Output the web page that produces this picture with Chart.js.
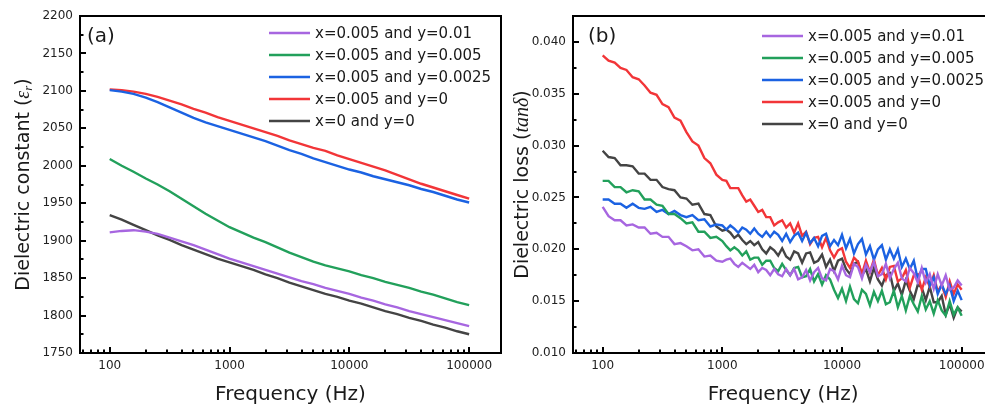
<!DOCTYPE html>
<html>
<head>
<meta charset="utf-8">
<script src="https://cdn.jsdelivr.net/npm/chart.js@4.4.1/dist/chart.umd.min.js"></script>
<style>
  html, body { margin: 0; padding: 0; background: #fff; overflow: hidden; }
  body { width: 985px; height: 412px; position: relative; }
  canvas { position: absolute; top: 0; }
  #chart-a { left: 0; }
  #chart-b { left: 490px; }
</style>
</head>
<body>
<canvas id="chart-a" width="505" height="412"></canvas>
<canvas id="chart-b" width="510" height="412"></canvas>
<script>
const LABELS = ['x=0.005 and y=0.01', 'x=0.005 and y=0.005', 'x=0.005 and y=0.0025', 'x=0.005 and y=0', 'x=0 and y=0'];
const COLORS = ['#a766e0', '#22a05b', '#1b62e2', '#f23538', '#444444'];

const X_TICKS = [100, 1000, 10000, 100000];
const Y_TICKS_A = [1750, 1800, 1850, 1900, 1950, 2000, 2050, 2100, 2150, 2200];
const Y_TICKS_B = [0.010, 0.015, 0.020, 0.025, 0.030, 0.035, 0.040];

// panel (a): dielectric constant, 10 points per decade
const FREQ_A = [100, 126, 158, 200, 251, 316, 398, 501, 631, 794,
  1000, 1259, 1585, 1995, 2512, 3162, 3981, 5012, 6310, 7943,
  10000, 12589, 15849, 19953, 25119, 31623, 39811, 50119, 63096, 79433, 100000];
const EPS_PURPLE = [1911, 1913, 1914, 1912, 1909, 1904, 1899, 1894, 1888, 1882, 1876, 1871, 1866, 1861, 1856, 1851, 1846, 1842, 1837, 1833, 1829, 1824, 1820, 1815, 1811, 1806, 1802, 1798, 1794, 1790, 1786];
const EPS_GREEN = [2009, 2000, 1992, 1983, 1975, 1966, 1956, 1946, 1936, 1927, 1918, 1911, 1904, 1898, 1891, 1884, 1878, 1872, 1867, 1863, 1859, 1854, 1850, 1845, 1841, 1837, 1832, 1828, 1823, 1818, 1814];
const EPS_BLUE = [2101, 2099, 2096, 2091, 2085, 2078, 2071, 2064, 2058, 2053, 2048, 2043, 2038, 2033, 2027, 2021, 2016, 2010, 2005, 2000, 1995, 1991, 1986, 1982, 1978, 1974, 1969, 1965, 1960, 1955, 1951];
const EPS_RED = [2102, 2101, 2099, 2096, 2092, 2087, 2082, 2076, 2071, 2065, 2060, 2055, 2050, 2045, 2040, 2034, 2029, 2024, 2020, 2014, 2009, 2004, 1999, 1994, 1988, 1982, 1976, 1971, 1966, 1961, 1956];
const EPS_BLACK = [1934, 1928, 1921, 1914, 1907, 1901, 1894, 1888, 1882, 1876, 1871, 1866, 1861, 1855, 1850, 1844, 1839, 1834, 1829, 1825, 1820, 1816, 1811, 1806, 1802, 1797, 1793, 1788, 1784, 1779, 1775];

// panel (b): dielectric loss, 20 points per decade below 1 kHz, 30 above
const FREQ_B = [100, 112, 126, 141, 158, 178, 200, 224, 251, 282, 316, 355, 398, 447, 501, 562, 631, 708, 794, 891,
  1000, 1080, 1166, 1259, 1359, 1468, 1585, 1711, 1848, 1995, 2154, 2326, 2512, 2712, 2929, 3162, 3415, 3687, 3981, 4299,
  4642, 5012, 5412, 5843, 6310, 6813, 7356, 7943, 8577, 9261,
  10000, 10798, 11659, 12589, 13594, 14678, 15849, 17113, 18478, 19953, 21544, 23263, 25119, 27123, 29286, 31623, 34146, 36869, 39811, 42987,
  46416, 50119, 54117, 58434, 63096, 68129, 73564, 79433, 85770, 92612, 100000];
const TAN_PURPLE = [0.0241, 0.0232, 0.0228, 0.0228, 0.0223, 0.0224, 0.0221, 0.0221, 0.0215, 0.0216, 0.0212, 0.0212, 0.0205, 0.0206, 0.0203, 0.0199, 0.0200, 0.0193, 0.0194, 0.0189,
  0.0188, 0.0190, 0.0191, 0.0186, 0.0183, 0.0187, 0.0184, 0.0181, 0.0185, 0.0178, 0.0182, 0.0180, 0.0175, 0.0181, 0.0176, 0.0174, 0.0181, 0.0175, 0.0181, 0.0171,
  0.0173, 0.0180, 0.0170, 0.0178, 0.0182, 0.0172, 0.0170, 0.0181, 0.0179, 0.0171,
  0.0184, 0.0175, 0.0173, 0.0186, 0.0183, 0.0172, 0.0185, 0.0178, 0.0188, 0.0174, 0.0176, 0.0186, 0.0172, 0.0181, 0.0187, 0.0172, 0.0169, 0.0182, 0.0177, 0.0168,
  0.0182, 0.0168, 0.0176, 0.0162, 0.0176, 0.0165, 0.0175, 0.0161, 0.0163, 0.0170, 0.0165];
const TAN_GREEN = [0.0266, 0.0266, 0.0260, 0.0260, 0.0255, 0.0257, 0.0256, 0.0248, 0.0248, 0.0243, 0.0242, 0.0234, 0.0234, 0.0230, 0.0225, 0.0226, 0.0217, 0.0217, 0.0211, 0.0212,
  0.0208, 0.0203, 0.0199, 0.0202, 0.0199, 0.0194, 0.0198, 0.0190, 0.0192, 0.0192, 0.0185, 0.0189, 0.0189, 0.0182, 0.0179, 0.0186, 0.0180, 0.0175, 0.0182, 0.0183,
  0.0173, 0.0174, 0.0181, 0.0169, 0.0176, 0.0166, 0.0175, 0.0171, 0.0161, 0.0153,
  0.0162, 0.0150, 0.0164, 0.0152, 0.0148, 0.0161, 0.0157, 0.0146, 0.0159, 0.0150, 0.0160, 0.0147, 0.0149, 0.0160, 0.0144, 0.0155, 0.0141, 0.0155, 0.0147, 0.0140,
  0.0155, 0.0142, 0.0150, 0.0138, 0.0151, 0.0141, 0.0136, 0.0150, 0.0137, 0.0144, 0.0136];
const TAN_BLUE = [0.0248, 0.0248, 0.0244, 0.0244, 0.0240, 0.0244, 0.0240, 0.0239, 0.0241, 0.0236, 0.0238, 0.0234, 0.0237, 0.0233, 0.0231, 0.0233, 0.0228, 0.0229, 0.0222, 0.0224,
  0.0223, 0.0219, 0.0223, 0.0220, 0.0216, 0.0221, 0.0219, 0.0215, 0.0220, 0.0215, 0.0212, 0.0217, 0.0212, 0.0217, 0.0214, 0.0208, 0.0215, 0.0207, 0.0213, 0.0216,
  0.0208, 0.0216, 0.0206, 0.0211, 0.0203, 0.0213, 0.0215, 0.0203, 0.0209, 0.0204,
  0.0214, 0.0201, 0.0210, 0.0196, 0.0205, 0.0210, 0.0195, 0.0203, 0.0190, 0.0200, 0.0204, 0.0190, 0.0200, 0.0191, 0.0200, 0.0183, 0.0191, 0.0181, 0.0189, 0.0171,
  0.0181, 0.0181, 0.0165, 0.0173, 0.0157, 0.0166, 0.0157, 0.0165, 0.0150, 0.0160, 0.0151];
const TAN_RED = [0.0387, 0.0382, 0.0380, 0.0375, 0.0373, 0.0366, 0.0364, 0.0358, 0.0351, 0.0349, 0.0340, 0.0337, 0.0327, 0.0324, 0.0313, 0.0304, 0.0300, 0.0288, 0.0283, 0.0272,
  0.0267, 0.0266, 0.0259, 0.0259, 0.0259, 0.0252, 0.0246, 0.0248, 0.0242, 0.0236, 0.0238, 0.0231, 0.0231, 0.0223, 0.0226, 0.0228, 0.0221, 0.0225, 0.0216, 0.0225,
  0.0213, 0.0217, 0.0205, 0.0211, 0.0212, 0.0202, 0.0211, 0.0199, 0.0192, 0.0199,
  0.0201, 0.0188, 0.0182, 0.0192, 0.0188, 0.0176, 0.0189, 0.0178, 0.0190, 0.0175, 0.0182, 0.0171, 0.0183, 0.0184, 0.0169, 0.0172, 0.0180, 0.0163, 0.0175, 0.0176,
  0.0161, 0.0173, 0.0164, 0.0175, 0.0159, 0.0166, 0.0154, 0.0169, 0.0157, 0.0166, 0.0161];
const TAN_BLACK = [0.0295, 0.0289, 0.0288, 0.0281, 0.0281, 0.0280, 0.0273, 0.0273, 0.0267, 0.0267, 0.0260, 0.0258, 0.0257, 0.0250, 0.0249, 0.0243, 0.0244, 0.0234, 0.0233, 0.0222,
  0.0218, 0.0219, 0.0216, 0.0211, 0.0214, 0.0209, 0.0205, 0.0208, 0.0204, 0.0207, 0.0200, 0.0196, 0.0202, 0.0199, 0.0194, 0.0201, 0.0193, 0.0190, 0.0198, 0.0196,
  0.0187, 0.0196, 0.0197, 0.0187, 0.0189, 0.0195, 0.0183, 0.0190, 0.0179, 0.0189,
  0.0191, 0.0181, 0.0176, 0.0186, 0.0188, 0.0175, 0.0181, 0.0169, 0.0182, 0.0171, 0.0165, 0.0175, 0.0177, 0.0160, 0.0167, 0.0156, 0.0170, 0.0160, 0.0152, 0.0166,
  0.0163, 0.0151, 0.0164, 0.0149, 0.0149, 0.0155, 0.0137, 0.0147, 0.0134, 0.0144, 0.0140];

const FONT = 'DejaVu Sans';

function makeDatasets(freq, series) {
  return series.map((vals, i) => ({
    label: LABELS[i],
    data: vals.map((v, k) => ({ x: freq[k], y: v })),
    borderColor: COLORS[i],
    borderWidth: 2.4,
    pointRadius: 0,
    tension: 0,
    fill: false
  }));
}

// frame, inward ticks, legend, panel letter and the mixed-style y title
const decoPlugin = {
  id: 'deco',
  afterDraw(chart, args, opts) {
    const { ctx, chartArea: a, scales: { x, y } } = chart;
    ctx.save();
    ctx.strokeStyle = '#000';
    ctx.lineWidth = 2;
    ctx.beginPath();
    for (let e = Math.floor(Math.log10(x.min)); e <= Math.ceil(Math.log10(x.max)); e++) {
      for (let m = 1; m < 10; m++) {
        const v = m * Math.pow(10, e);
        if (v <= x.min || v >= x.max) continue;
        const px = Math.round(x.getPixelForValue(v));
        ctx.moveTo(px, a.bottom);
        ctx.lineTo(px, a.bottom - (m === 1 ? 6 : 3.5));
      }
    }
    y.ticks.forEach((t, i) => {
      const py = Math.round(y.getPixelForValue(t.value));
      ctx.moveTo(a.left, py);
      ctx.lineTo(a.left + 6, py);
      const next = y.ticks[i + 1];
      if (next) {
        const pm = Math.round(y.getPixelForValue((t.value + next.value) / 2));
        ctx.moveTo(a.left, pm);
        ctx.lineTo(a.left + 3.5, pm);
      }
    });
    ctx.stroke();
    ctx.strokeRect(a.left, a.top, a.width, a.height);

    // legend
    ctx.textBaseline = 'middle';
    ctx.textAlign = 'left';
    ctx.font = '15px "' + FONT + '"';
    chart.data.datasets.forEach((ds, i) => {
      const ly = a.top + opts.legendTop + i * 22;
      ctx.strokeStyle = ds.borderColor;
      ctx.lineWidth = 2.5;
      ctx.beginPath();
      ctx.moveTo(a.left + 189, ly);
      ctx.lineTo(a.left + 230, ly);
      ctx.stroke();
      ctx.fillStyle = '#1a1a1a';
      ctx.fillText(ds.label, a.left + 235, ly + 1);
    });

    // panel letter
    ctx.font = '20px "' + FONT + '"';
    ctx.fillStyle = '#1a1a1a';
    ctx.fillText(opts.letter, a.left + opts.letterX, a.top + 21);

    // rotated y title
    ctx.translate(opts.titleX, (a.top + a.bottom) / 2);
    ctx.rotate(-Math.PI / 2);
    let total = 0;
    opts.title.forEach(p => { ctx.font = p.font; total += ctx.measureText(p.text).width; });
    let cx = -total / 2;
    opts.title.forEach(p => {
      ctx.font = p.font;
      ctx.fillText(p.text, cx, p.dy || 0);
      cx += ctx.measureText(p.text).width;
    });
    ctx.restore();
  }
};

function makeChart(id, freq, series, yTicks, deco, sizes) {
  const ctx = document.getElementById(id).getContext('2d');
  return new Chart(ctx, {
    type: 'line',
    data: { datasets: makeDatasets(freq, series) },
    plugins: [decoPlugin],
    options: {
      responsive: false,
      animation: false,
      layout: { padding: { top: 16, right: sizes.padRight, left: 0, bottom: 0 } },
      plugins: { legend: { display: false }, tooltip: { enabled: false }, deco: deco },
      scales: {
        x: {
          type: 'logarithmic',
          min: 56.5,
          max: 184500,
          afterFit: s => { s.height = 59; },
          afterBuildTicks: s => { s.ticks = X_TICKS.map(v => ({ value: v })); },
          grid: { display: false, drawTicks: false },
          border: { display: false },
          ticks: {
            autoSkip: false,
            maxRotation: 0,
            padding: 6,
            color: '#222',
            font: { family: FONT, size: 12 },
            callback: v => String(v)
          },
          title: {
            display: true,
            text: 'Frequency (Hz)',
            color: '#1a1a1a',
            font: { family: FONT, size: 20 },
            padding: { top: 0, bottom: 5 }
          }
        },
        y: {
          min: yTicks[0],
          max: sizes.yMax,
          afterFit: s => { s.width = sizes.yWidth; },
          afterBuildTicks: s => { s.ticks = yTicks.map(v => ({ value: v })); },
          grid: { display: false, drawTicks: false },
          border: { display: false },
          ticks: {
            padding: 7,
            color: '#222',
            font: { family: FONT, size: 12 },
            callback: v => sizes.fmt(v)
          }
        }
      }
    }
  });
}

makeChart('chart-a', FREQ_A, [EPS_PURPLE, EPS_GREEN, EPS_BLUE, EPS_RED, EPS_BLACK], Y_TICKS_A, {
  letter: '(a)', letterX: 7, legendTop: 17, titleX: 24,
  title: [
    { text: 'Dielectric constant (', font: '19px "' + FONT + '"' },
    { text: 'ε', font: 'italic 20px "Liberation Serif"' },
    { text: 'r', font: 'italic 13px "Liberation Serif"', dy: 5 },
    { text: ')', font: '19px "' + FONT + '"' }
  ]
}, { padRight: 4, yWidth: 80, yMax: 2200, fmt: v => String(v) });

makeChart('chart-b', FREQ_B, [TAN_PURPLE, TAN_GREEN, TAN_BLUE, TAN_RED, TAN_BLACK], Y_TICKS_B, {
  letter: '(b)', letterX: 15, legendTop: 20, titleX: 33,
  title: [
    { text: 'Dielectric loss (', font: '19px "' + FONT + '"' },
    { text: 'tanδ', font: 'italic 20px "Liberation Serif"' },
    { text: ')', font: '19px "' + FONT + '"' }
  ]
}, { padRight: 6.5, yWidth: 83, yMax: 0.0425, fmt: v => v.toFixed(3) });
</script>
</body>
</html>
